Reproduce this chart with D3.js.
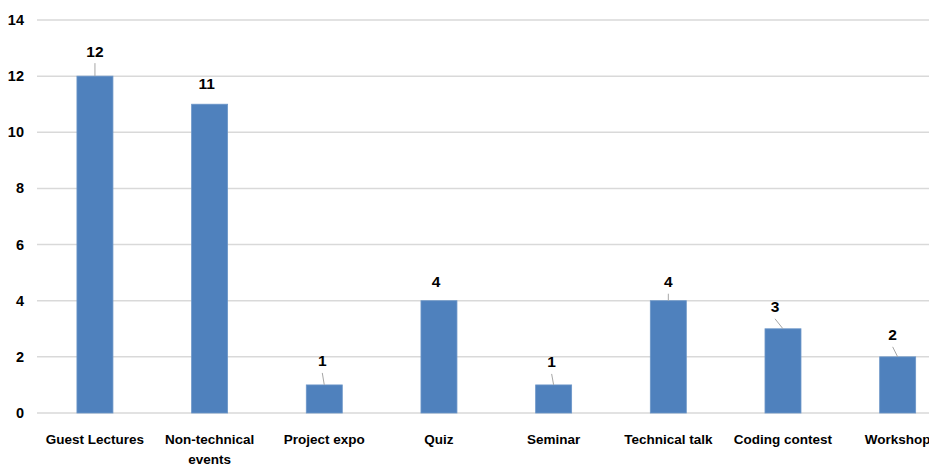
<!DOCTYPE html>
<meta charset="utf-8">
<style>
body { margin: 0; background: #fff; }
.chart text { font-family: "Liberation Sans", Arial, sans-serif; font-weight: bold; fill: #000; }
</style>
<svg class="chart"></svg>
<script src="https://d3js.org/d3.v7.min.js"></script>
<script>

  var categories = ["Guest Lectures", "Non-technical events", "Project expo", "Quiz",
                    "Seminar", "Technical talk", "Coding contest", "Workshop"];
  var counts = [12, 11, 1, 4, 1, 4, 3, 2];
  var yTicks = [0, 2, 4, 6, 8, 10, 12, 14];

  // where excel left the data labels (dx, dy from bar top centre) and whether a leader shows
  var labelShift = [[0, -25], [-3, -21], [-2, -24], [-3, -19], [-2, -23], [0, -19], [-8, -22], [-5, -22]];
  var leader = [true, false, true, false, true, true, true, true];

  var outerWidth = 929, outerHeight = 467;

  var svg = d3.select(".chart")
      .attr("width", outerWidth)
      .attr("height", outerHeight);

  var x = d3.scaleBand()
      .domain(categories)
      .range([37.6, 955])
      .padding(0);

  var barWidth = 36;

  var y = d3.scaleLinear()
      .domain([0, 14])
      .range([413, 20]);

  function barMid(i) { return x(categories[i]) + x.bandwidth() / 2; }

  // gridlines
  svg.append("g")
    .selectAll("line")
      .data(yTicks)
    .enter().append("line")
      .attr("x1", 37)
      .attr("x2", outerWidth)
      .attr("y1", function(d) { return y(d); })
      .attr("y2", function(d) { return y(d); })
      .attr("stroke", "#d9d9d9")
      .attr("stroke-width", 1.5);

  // y tick labels
  svg.append("g")
    .selectAll("text")
      .data(yTicks)
    .enter().append("text")
      .attr("x", 24)
      .attr("y", function(d) { return y(d) + 5; })
      .attr("text-anchor", "end")
      .style("font-size", "14.5px")
      .text(function(d) { return d; });

  // bars
  svg.append("g")
    .selectAll("rect")
      .data(counts)
    .enter().append("rect")
      .attr("x", function(d, i) { return barMid(i) - barWidth / 2; })
      .attr("y", function(d) { return y(d); })
      .attr("width", barWidth)
      .attr("height", function(d) { return y(0) - y(d); })
      .attr("fill", "#4f81bd")
      .attr("stroke", "#6c96c8")
      .attr("stroke-width", 0.8);

  // leader lines
  var withLeader = d3.range(counts.length).filter(function(i) { return leader[i]; });

  svg.append("g")
    .selectAll("line")
      .data(withLeader)
    .enter().append("line")
      .attr("x1", function(i) { return barMid(i) + labelShift[i][0]; })
      .attr("y1", function(i) { return y(counts[i]) + labelShift[i][1] + 12; })
      .attr("x2", function(i) { return barMid(i); })
      .attr("y2", function(i) { return y(counts[i]); })
      .attr("stroke", "#a6a6a6")
      .attr("stroke-width", 1);

  // data labels
  svg.append("g")
    .selectAll("text")
      .data(counts)
    .enter().append("text")
      .attr("x", function(d, i) { return barMid(i) + labelShift[i][0]; })
      .attr("y", function(d, i) { return y(d) + labelShift[i][1] + 5.5; })
      .attr("text-anchor", "middle")
      .style("font-size", "15.5px")
      .text(function(d) { return d; });

  // category labels, wrapped like excel does it
  var catLines = [["Guest Lectures"], ["Non-technical", "events"], ["Project expo"], ["Quiz"],
                  ["Seminar"], ["Technical talk"], ["Coding contest"], ["Workshop"]];

  var xLabels = svg.append("g")
    .selectAll("text")
      .data(categories)
    .enter().append("text")
      .attr("text-anchor", "middle")
      .attr("transform", function(d) { return "translate(" + (x(d) + x.bandwidth() / 2) + ",444)"; })
      .style("font-size", "13.5px");

  xLabels.selectAll("tspan")
      .data(function(d, i) { return catLines[i]; })
    .enter().append("tspan")
      .attr("x", 0)
      .attr("dy", function(d, j) { return j ? 20 : 0; })
      .text(function(d) { return d; });

</script>
